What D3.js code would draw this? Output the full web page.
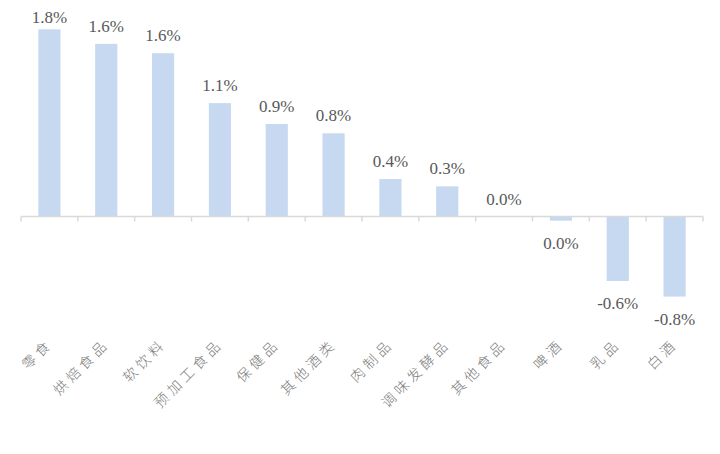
<!DOCTYPE html>
<html>
<head>
<meta charset="utf-8">
<script src="https://cdn.jsdelivr.net/npm/d3@7"></script>
<style>
  html, body { margin: 0; padding: 0; background: #fff; }
  svg { display: block; }
  .vlabel { font-family: "Liberation Serif", "Times New Roman", Times, serif; font-size: 17px; fill: #595959; }
  .clabel { font-family: "Noto Sans CJK SC", sans-serif; font-weight: 300; font-size: 14px; letter-spacing: 4px; fill: #7a7a7a; }
</style>
</head>
<body>
<svg id="chart" width="720" height="454"></svg>
<script>
const categories = ["零食", "烘焙食品", "软饮料", "预加工食品", "保健品", "其他酒类", "肉制品", "调味发酵品", "其他食品", "啤酒", "乳品", "白酒"];
const values = [1.80, 1.66, 1.57, 1.09, 0.89, 0.80, 0.36, 0.29, 0.00, -0.04, -0.62, -0.77];
const valueLabels = ["1.8%", "1.6%", "1.6%", "1.1%", "0.9%", "0.8%", "0.4%", "0.3%", "0.0%", "0.0%", "-0.6%", "-0.8%"];

const svg = d3.select("#chart");

const x = d3.scaleBand()
  .domain(categories)
  .range([21, 703])
  .paddingInner(0.61)
  .paddingOuter(0.305);

const y = d3.scaleLinear()
  .domain([-1, 2])
  .range([320.5, 8.5]);

const data = categories.map((c, i) => ({ c, v: values[i], label: valueLabels[i] }));

// bars
svg.append("g").selectAll("rect")
  .data(data)
  .join("rect")
  .attr("x", d => x(d.c))
  .attr("width", x.bandwidth())
  .attr("y", d => Math.min(y(d.v), y(0)))
  .attr("height", d => Math.abs(y(d.v) - y(0)))
  .attr("fill", "#C6D9F1");

// axis line with ticks at band boundaries
const axisG = svg.append("g");
const x0 = x.range()[0], x1 = x.range()[1];
axisG.append("line")
  .attr("x1", x0).attr("x2", x1)
  .attr("y1", y(0)).attr("y2", y(0))
  .attr("stroke", "#D9D9D9").attr("stroke-width", 1.5);
axisG.selectAll("line.tick")
  .data(d3.range(categories.length + 1))
  .join("line")
  .attr("class", "tick")
  .attr("x1", i => x0 + i * x.step())
  .attr("x2", i => x0 + i * x.step())
  .attr("y1", y(0))
  .attr("y2", y(0) + 5)
  .attr("stroke", "#D9D9D9").attr("stroke-width", 1.5);

// value labels
svg.append("g").selectAll("text")
  .data(data)
  .join("text")
  .attr("class", "vlabel")
  .attr("x", d => x(d.c) + x.bandwidth() / 2)
  .attr("y", d => d.v >= 0 ? Math.max(y(d.v) - 12, 23) : y(d.v) + 28)
  .attr("text-anchor", "middle")
  .text(d => d.label);

// category labels
svg.append("g").selectAll("text")
  .data(categories)
  .join("text")
  .attr("class", "clabel")
  .attr("transform", c => `translate(${x(c) + x.bandwidth() / 2 + 4},345) rotate(-45)`)
  .attr("text-anchor", "end")
  .text(c => c);
</script>
</body>
</html>
